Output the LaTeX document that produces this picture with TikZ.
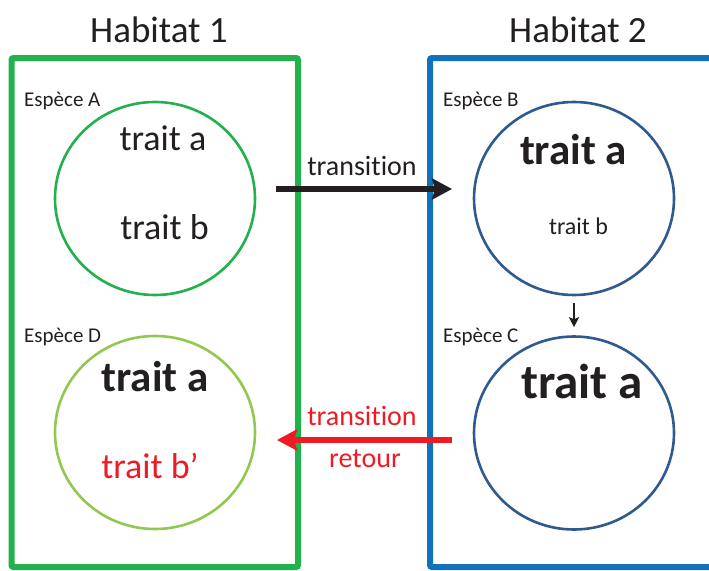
\documentclass[tikz,border=0pt]{standalone}
\usepackage{fontspec}
\setmainfont{Carlito}[Ligatures=CommonOff]
\usetikzlibrary{shapes.geometric,arrows.meta}
\definecolor{hgreen}{RGB}{34,177,76}
\definecolor{hblue}{RGB}{17,113,187}
\definecolor{cblue}{RGB}{47,90,143}
\definecolor{lgreen}{RGB}{146,200,80}
\definecolor{tred}{RGB}{237,28,36}
\definecolor{tdark}{RGB}{35,31,32}
\newcommand{\fs}[1]{\fontsize{#1}{#1}\selectfont}
\tikzset{
  habbox/.style={line width=6pt, rounded corners=2pt},
  species/.style={ellipse, draw, line width=2.6pt, minimum width=200pt, minimum height=193pt, inner sep=0pt},
  lbl/.style={anchor=base, inner sep=0pt, text=tdark},
  sp/.style={anchor=base west, inner sep=0pt, text=tdark, font=\fs{21}},
  bigarrow/.style={line width=6pt, -{Stealth[length=20pt,width=21pt,inset=3pt]}},
}
\begin{document}
\begin{tikzpicture}[x=1pt,y=-1pt]
\useasboundingbox (0,0) rectangle (709,570);
\clip (0,0) rectangle (709,570);
\fill[white] (0,0) rectangle (709,570);
% habitats
\draw[habbox, hgreen] (11.5,58) rectangle (298,567);
\draw[habbox, hblue] (430,58) rectangle (760,567);
\node[lbl, font=\fs{37}] (h1) at (159,42) {Habitat 1};
\node[lbl, font=\fs{37}] (h2) at (578,42) {Habitat 2};
% species circles
\node[species, draw=hgreen] (A) at (155,198.5) {};
\node[species, draw=lgreen] (D) at (155,432.5) {};
\node[species, draw=cblue] (B) at (574,198.5) {};
\node[species, draw=cblue] (C) at (574,433) {};
% species labels
\node[sp] (lA) at (24,106) {Espèce A};
\node[sp] (lB) at (443,106) {Espèce B};
\node[sp] (lC) at (443,342) {Espèce C};
\node[sp] (lD) at (24,342) {Espèce D};
% traits
\node[lbl, font=\fs{36}] (Aa) at (163,150) {trait a};
\node[lbl, font=\fs{36}] (Ab) at (164.5,239) {trait b};
\node[lbl, font=\fs{43}\bfseries] (Ba) at (573.5,164) {trait a};
\node[lbl, font=\fs{24}] (Bb) at (578.5,234) {trait b};
\node[lbl, font=\fs{49}\bfseries] (Ca) at (582,398) {trait a};
\node[lbl, font=\fs{43}\bfseries] (Da) at (155,391) {trait a};
\node[lbl, font=\fs{36}, text=tred] (Db) at (150,478) {trait b’};
% connectors
\coordinate (t1s) at (276,189);
\coordinate (t1e) at (452,189);
\coordinate (t2s) at (452,440);
\coordinate (t2e) at (277,440);
\draw[bigarrow, tdark] (t1s) -- (t1e);
\draw[bigarrow, tred] (t2s) -- (t2e);
\draw[tdark, line width=1.8pt, -{Stealth[length=10pt,width=10pt,inset=2pt]}, shorten <=7pt, shorten >=8pt] (B.south) -- (C.north);
\node[lbl, font=\fs{28}] (tr1) at (362,175) {transition};
\node[lbl, font=\fs{28}, text=tred] (tr2) at (362,425.5) {transition};
\node[lbl, font=\fs{28}, text=tred] (tr3) at (365,467) {retour};
\end{tikzpicture}
\end{document}
